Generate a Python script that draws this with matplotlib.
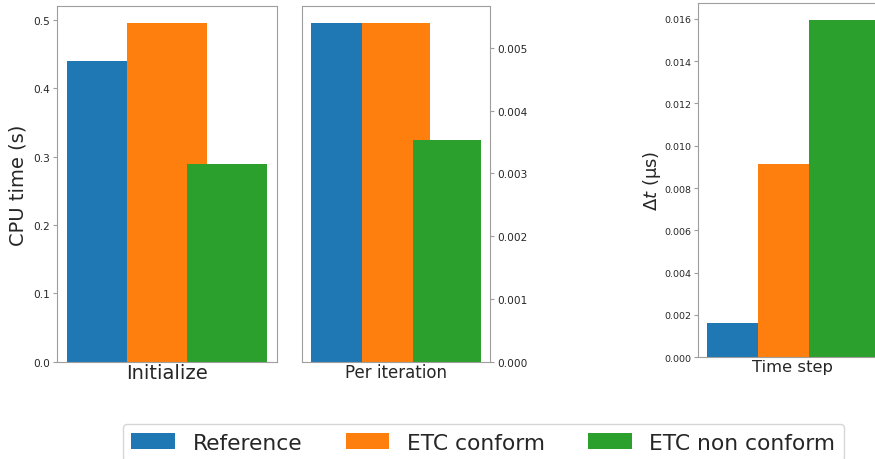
import numpy as np
import matplotlib
matplotlib.use("Agg")
import matplotlib.pyplot as plt

series = ["Reference", "ETC conform", "ETC non conform"]
colors = ["#1f77b4", "#ff7f0e", "#2ca02c"]

init_time = [0.439, 0.495, 0.2895]          # s
per_iter_time = [0.0054, 0.0054, 0.00353]   # s
time_step = [0.00161, 0.00916, 0.01595]     # us

offsets = [-0.3, 0.0, 0.3]
bar_width = 0.4

spine_col = "0.62"
text_col = "0.15"

fig = plt.figure(figsize=(8.75, 4.6), dpi=100)

ax1 = fig.add_axes([0.0651, 0.2109, 0.2514, 0.7739])
ax2 = fig.add_axes([0.3455, 0.2115, 0.2145, 0.7733])
ax3 = fig.add_axes([0.7981, 0.2211, 0.2145, 0.7702])

def draw_group(ax, values, xlabel, xsize, ticksize):
    for off, v, c, name in zip(offsets, values, colors, series):
        ax.bar(off, v, width=bar_width, color=c, label=name)
    ax.set_xticks([])
    ax.set_xlabel(xlabel, fontsize=xsize, color=text_col, labelpad=1)
    for sp in ax.spines.values():
        sp.set_color(spine_col)
    ax.tick_params(axis="y", length=3, width=0.8, pad=2, colors=spine_col,
                   labelcolor=text_col, labelsize=ticksize)

draw_group(ax1, init_time, "Initialize", 14, 7.6)
ax1.set_yticks(np.arange(0, 0.51, 0.1))
ax1.set_ylabel("CPU time (s)", fontsize=14, color=text_col, labelpad=4)

draw_group(ax2, per_iter_time, "Per iteration", 12, 7.6)
ax2.yaxis.tick_right()
ax2.set_yticks(np.arange(0, 0.0051, 0.001))

draw_group(ax3, time_step, "Time step", 11.8, 6.8)
ax3.set_yticks(np.arange(0, 0.0161, 0.002))
ax3.set_ylabel(r"$\Delta t$ (μs)", fontsize=13, color=text_col, labelpad=1)

handles, labels = ax1.get_legend_handles_labels()
fig.legend(handles, labels, loc="upper left", bbox_to_anchor=(0.1402, 0.0761),
           ncol=3, fontsize=15.7, frameon=True, borderaxespad=0,
           labelcolor=text_col)

fig.savefig("out.png", dpi=100)
plt.close(fig)
